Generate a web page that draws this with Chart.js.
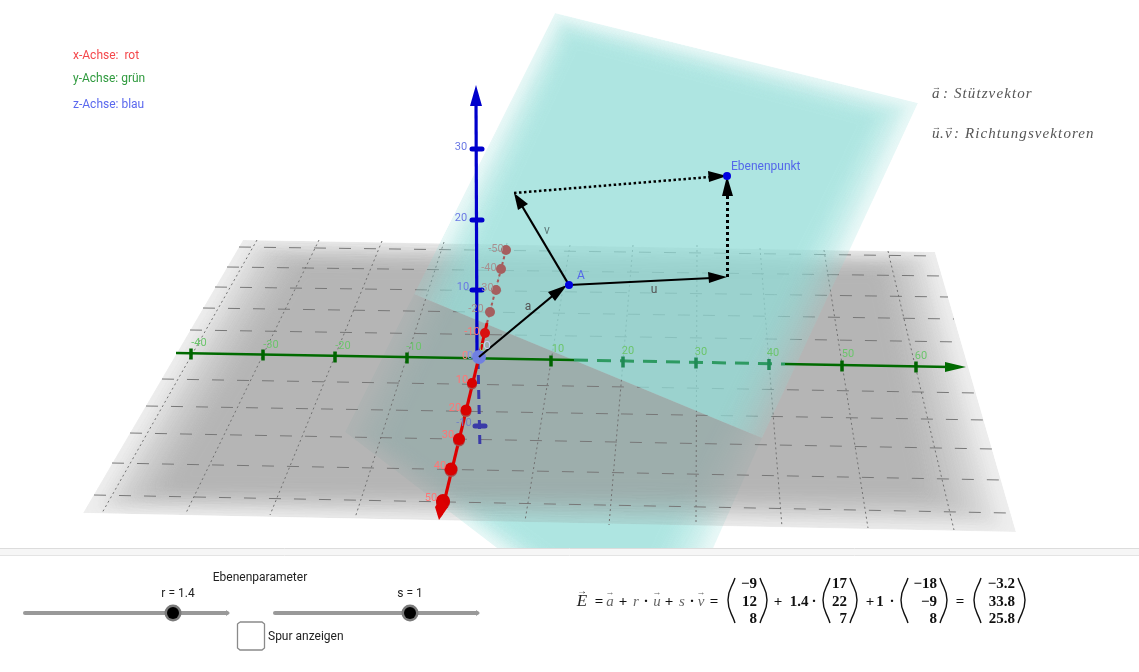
<!DOCTYPE html>
<html><head><meta charset="utf-8">
<script src="https://cdn.jsdelivr.net/npm/chart.js@4"></script>
<style>html,body{margin:0;padding:0;background:#fff}canvas{display:block}</style>
</head><body><canvas id="c" width="1139" height="672"></canvas>
<script>
// ---------- surfaces (picture coordinates) ----------
const tealLayers = [
 [[555,13],[918,103],[690,600],[565,600],[345,432]],
 [[558,18],[909,106],[680,600],[574,600],[354,434]],
 [[562,23],[900,109],[669,600],[583,600],[363,435]],
 [[565,28],[890,112],[658,600],[592,600],[372,437]],
 [[569,33],[881,115],[647,600],[601,600],[381,438]],
 [[572,38],[872,118],[636,600],[610,600],[390,440]]
];
const tealUpper = [[555,13],[918,103],[762,438],[414,294]];
const tealLower = [[414,294],[762,438],[690,600],[565,600],[345,432]];
const grayLayers = [
 [[243,240],[935,252],[1016,532],[83,513]],
 [[252,244],[926,255],[1001,526],[97,509]],
 [[262,248],[917,258],[986,519],[110,505]],
 [[271,252],[907,261],[970,513],[124,501]],
 [[281,257],[898,264],[955,507],[138,498]],
 [[290,261],[889,267],[940,500],[151,494]],
 [[300,265],[880,270],[925,494],[165,490]]
];
// ---------- floor grid ----------
const gridRows = [
 [[239,247],[936,256]],[[227,267],[942,276]],[[215,287],[948,297]],[[203,308],[954,319]],
 [[190,330],[961,342]],[[162,379],[976,393]],[[146,406],[984,420]],[[130,433],[992,449]],
 [[112,463],[1001,480]],[[94,495],[1008,513]]
];
const gridCols = [
 [[257,240],[102,513]],[[319,240],[186,513]],[[382,241],[270,515]],[[444,242],[355,518]],
 [[507,243],[440,520]],[[570,245],[525,521]],[[633,245],[609,525]],[[697,245],[696,523]],
 [[760,248],[782,527]],[[824,250],[868,528]],[[888,251],[954,530]]
];
// ---------- axes ----------
const yAxisLeft = [[176,353],[574,360]];
const yAxisHidden = [[574,360],[785,364]];
const yAxisRight = [[785,364],[950,367]];
const yArrow = [[945,362],[966,367],[945,372]];
const yTicksFront = [[191,354],[263,355],[335,357],[407,358],[551,361],[842,366],[916,367]];
const yTicksHidden = [[623,362],[696,363],[769,364.5]];
const zAxisUp = [[477,357],[476,100]];
const zArrow = [[476,85],[470,106],[482,106]];
const zAxisDown = [[478,360],[480,450]];
const zTicks = [[[472,149],[482,149]],[[472,220],[482,220]],[[472,290],[482,290]]];
const zTickDown = [[475,426],[485,426]];
const xAxisFront = [[479,357],[441,515]];
const xAxisBack = [[479,357],[487,323]];
const xAxisBackDots = [[487,323],[506,250]];
const xArrow = [[439,520],[435,507],[441,498],[448,507]];
const xTicksFront = [[472,383],[466,410],[459,439],[451,469],[443,501]];
const xTickRadii = [5,5.5,6,6.5,7];
const xTicksBackBright = [[485,333]];
const xTicksBack = [[490,312],[496,290],[501,269],[506,250]];
const originPoint = [[479,357]];
// ---------- vectors ----------
const vecA = [[479,357],[556,293]];
const vecAHead = [[567,285],[548,292],[555,301]];
const vecU = [[569,285],[712,278]];
const vecUHead = [[727,277],[708,272],[709,283]];
const vecV = [[569,285],[522,206]];
const vecVHead = [[514,193],[518,210],[528,204]];
const dotTop = [[514,193],[710,177]];
const dotTopHead = [[727,176],[708,171],[709,182]];
const dotRight = [[727.5,277],[727.5,194]];
const dotRightHead = [[727,176],[722,196],[733,196]];
const planePoints = [[569,285],[727,176]];
// ---------- panel and widgets ----------
const panelBack = [[0,548],[1139,548],[1139,672],[0,672]];
const panelStrip = [[0,549],[1139,549],[1139,555],[0,555]];
const panelLineTop = [[0,548.5],[1139,548.5]];
const panelLineBottom = [[0,555.5],[1139,555.5]];
const sliderR = [[25,613],[227,613]];
const sliderS = [[275,613],[477,613]];
const sliderRHead = [[230,613],[226,610],[226,616]];
const sliderSHead = [[480,613],[476,610],[476,616]];
const sliderKnobs = [[173,613],[410,613]];
const checkBox = [[240,622],[262,622],[264.5,624],[264.5,648],[262,650],[240,650],[237.5,648],[237.5,624],[240,622]];
// ---------- formula parentheses ----------
const parens = [
 [[735,578],[728,600],[735,623]],[[760,578],[767,600],[760,623]],
 [[830,578],[823,600],[830,623]],[[850,578],[857,600],[850,623]],
 [[908,578],[901,600],[908,623]],[[940,578],[947,600],[940,623]],
 [[981,578],[974,600],[981,623]],[[1018,578],[1025,600],[1018,623]]
];
// ---------- text ----------
const UI = '12px Roboto', TICK = '11px Roboto';
const MATH = 'bold 15px "Liberation Serif"', MI = 'italic 15px "Liberation Serif"';
const legendTexts = [
 ['x-Achse:  rot',73,55,'#f4474b'],['y-Achse: grün',73,78,'#2f9a3e'],['z-Achse: blau',73,104,'#5a68ee']
];
const yTickLabels = [['-40',199,342],['-30',271,344],['-20',343,345],['-10',414,346],['10',558,348],
 ['20',628,350],['30',701,351],['40',773,352],['50',848,353],['60',921,355]];
const zTickLabels = [['30',461,146],['20',461,217],['10',463,286]];
const zTickLabelsDim = [['-10',464,422]];
const xTickLabels = [['10',462,379],['20',455,407],['30',448,434],['40',440,465],['50',431,497],['-10',472,331]];
const xTickLabelsDim = [['-20',476,308],['-30',486,287],['-40',489,267],['-50',496,248]];
const originLabels = [['0',465,355,'#ff7f7f'],['0',470,355,'#7f8ce8'],['0',482,347,'#8fd08f'],['O',487,345,'#c9d2fa']];
const vectorLabels = [['a',528,306,'#555'],['u',654,289,'#555'],['v',547,230,'#5f7a7a']];
const pointLabels = [['A',577,275],['Ebenenpunkt',731,166]];
const widgetTexts = [['Ebenenparameter',260,577,'center'],['r = 1.4',178,593,'center'],['s = 1',410,593,'center'],['Spur anzeigen',268,636,'left']];
const noteTexts = [
 ['a',932,93],['→',932,87,9],[': Stützvektor',943,93],
 ['u',932,133],['→',932,127,9],['.',940,133],['v',945,133],['→',945,127,9],[': Richtungsvektoren',954,133]
];
const formulaItalic = [['E',582,601,0,'italic 17px "Liberation Serif"'],['→',582,590,10],['a',610,601],['→',610,592,9],['r',636,601],['u',657,601],['→',657,592,9],['s',682,601],['v',701,601],['→',701,592,9]];
const formulaOps = [['=',599,601],['+',623,601],['·',646,601],['+',669,601],['·',692,601],['=',714,601],
 ['+',778,601],['1.4',799,601],['·',814,601],['+',870,601],['1',880,601],['·',892,601],['=',960,601]];
const matrixA = ['−9','12','8'];
const matrixU = ['17','22','7'];
const matrixV = ['−18','−9','8'];
const matrixE = ['−3.2','33.8','25.8'];
const matrixRight = [757,847,937,1015];
const matrixRows = [583,601,618];

// soft-edged translucent fill for the planes: nested outlines, blurred, used as a fill pattern
function softPattern(layers,color,blur){
 const off=document.createElement('canvas'); off.width=1139; off.height=672;
 const g=off.getContext('2d');
 g.fillStyle=color;
 layers.forEach((p,i)=>{
  g.filter = i===0 ? 'none' : 'blur('+blur+'px)';
  g.beginPath(); p.forEach((q,k)=>k?g.lineTo(q[0],q[1]):g.moveTo(q[0],q[1])); g.closePath(); g.fill();
 });
 return g.createPattern(off,'no-repeat');
}
const tealFill = softPattern(tealLayers,'rgba(146,220,217,0.2)',5);
const grayFill = softPattern(grayLayers,'rgba(152,152,152,0.16)',7);

const pts = a => a.map(p => ({x:p[0],y:p[1]}));
const datasets = [];
function add(d){ d.order = -datasets.length; d.showLine = d.showLine!==false; d.pointRadius = d.pointRadius||0; d.pointHoverRadius=0; datasets.push(d); }
function poly(a,c){ add({data:pts(a),fill:'shape',backgroundColor:c,borderWidth:0,borderColor:'transparent',tension:0}); }
function line(a,c,w,dash,t,cap){ add({data:pts(a),borderColor:c,borderWidth:w,borderDash:dash||[],fill:false,tension:t||0,borderCapStyle:cap||'butt'}); }
function marks(a,opt){ add(Object.assign({data:pts(a),showLine:false,borderWidth:0},opt)); }

poly(tealLower,tealFill);
poly(grayLayers[0],grayFill);
gridRows.forEach(r=>line(r,'#777',1,[12,13]));
gridCols.forEach(r=>line(r,'#707070',1,[2,3]));
poly(tealUpper,tealFill);
// axes
line(zAxisUp,'#0000cc',3.2);
poly(zArrow,'#0000cc');
zTicks.forEach(t=>line(t,'#0000cc',5,[],0,'round'));
line(zAxisDown,'#3a3aa8',3,[9,6]);
line(zTickDown,'#3a3aa8',5,[],0,'round');
line(yAxisLeft,'#006a00',2.4);
line(yAxisHidden,'#2e9a62',3,[14,9]);
line(yAxisRight,'#006a00',2.4);
poly(yArrow,'#006a00');
marks(yTicksFront,{pointStyle:'line',rotation:90,pointRadius:5.5,borderWidth:3.5,borderColor:'#006400'});
marks(yTicksHidden,{pointStyle:'line',rotation:90,pointRadius:5.5,borderWidth:3.5,borderColor:'#1f8a55'});
line(xAxisBackDots,'#a85a5a',2,[3,3]);
marks(xTicksBack,{pointStyle:'circle',pointRadius:5,backgroundColor:'#a55f5f'});
line(xAxisBack,'#dd0000',3);
marks(xTicksBackBright,{pointStyle:'circle',pointRadius:5,backgroundColor:'#d81010'});
line(xAxisFront,'#dd0000',3.2);
marks(xTicksFront.map(p=>[p[0],p[1]+1.5]),{pointStyle:'circle',pointRadius:xTickRadii,backgroundColor:'#a84a4a'});
marks(xTicksFront,{pointStyle:'circle',pointRadius:xTickRadii,backgroundColor:'#d80000'});
poly(xArrow,'#dd0000');
marks(originPoint,{pointStyle:'circle',pointRadius:7,backgroundColor:'#7080e0'});
// vectors
line(vecA,'#000',2.2); poly(vecAHead,'#000');
line(vecU,'#000',2.2); poly(vecUHead,'#000');
line(vecV,'#000',2.2); poly(vecVHead,'#000');
line(dotTop,'#000',2.5,[2.5,2.5]); poly(dotTopHead,'#000');
line(dotRight,'#000',3,[3,3]); poly(dotRightHead,'#000');
marks(planePoints,{pointStyle:'circle',pointRadius:4,backgroundColor:'#0000e0'});
// bottom panel
poly(panelBack,'#ffffff');
poly(panelStrip,'#f6f6f6');
line(panelLineTop,'#dcdcdc',1);
line(panelLineBottom,'#e4e4e4',1);
line(sliderR,'#999',4,[],0,'round'); poly(sliderRHead,'#999');
line(sliderS,'#999',4,[],0,'round'); poly(sliderSHead,'#999');
marks(sliderKnobs,{pointStyle:'circle',pointRadius:8.5,backgroundColor:'#7a7a7a'});
marks(sliderKnobs,{pointStyle:'circle',pointRadius:6,backgroundColor:'#000'});
line(checkBox,'#8a8a8a',1.3);
parens.forEach(p=>line(p,'#111',1.4,[],0.5));

const textPlugin = {
 id:'texts',
 afterDraw(chart){
  const c=chart.ctx, X=chart.scales.x, Y=chart.scales.y;
  const put=(s,x,y,font,col,al)=>{c.font=font;c.fillStyle=col;c.textAlign=al||'left';c.textBaseline='middle';c.fillText(s,X.getPixelForValue(x),Y.getPixelForValue(y)+1);};
  c.save();
  legendTexts.forEach(t=>put(t[0],t[1],t[2],UI,t[3]));
  yTickLabels.forEach(t=>put(t[0],t[1],t[2],TICK,'#6cc56c','center'));
  zTickLabels.forEach(t=>put(t[0],t[1],t[2],TICK,'#6a78e4','center'));
  zTickLabelsDim.forEach(t=>put(t[0],t[1],t[2],TICK,'#7280c8','center'));
  xTickLabels.forEach(t=>put(t[0],t[1],t[2],TICK,'#ff7575','center'));
  xTickLabelsDim.forEach(t=>put(t[0],t[1],t[2],TICK,'#a89090','center'));
  originLabels.forEach(t=>put(t[0],t[1],t[2],TICK,t[3],'center'));
  vectorLabels.forEach(t=>put(t[0],t[1],t[2],UI,t[3],'center'));
  pointLabels.forEach(t=>put(t[0],t[1],t[2],UI,'#5468ea','left'));
  widgetTexts.forEach(t=>put(t[0],t[1],t[2],UI,'#222',t[3]));
  noteTexts.forEach(t=>{
   c.letterSpacing = t[0].length>1 && t[0]!=='→' ? '1.1px' : '0px';
   put(t[0],t[1],t[2],t[3]?t[3]+'px "Liberation Serif"':'italic 15px "Liberation Serif"','#555','left');
  });
  c.letterSpacing='0px';
  formulaItalic.forEach(t=>put(t[0],t[1],t[2],t[4]||(t[3]?t[3]+'px "Liberation Serif"':MI),t[0]==='E'||(t[0]==='→'&&t[1]===582)?'#222':'#666','center'));
  formulaOps.forEach(t=>put(t[0],t[1],t[2],MATH,'#111','center'));
  [matrixA,matrixU,matrixV,matrixE].forEach((m,i)=>m.forEach((s,j)=>put(s,matrixRight[i],matrixRows[j],MATH,'#111','right')));
  c.restore();
 }
};
new Chart(document.getElementById('c'),{
 type:'scatter',
 data:{datasets},
 plugins:[textPlugin],
 options:{
  responsive:false,animation:false,devicePixelRatio:1,
  layout:{padding:0,autoPadding:false},
  plugins:{legend:{display:false},title:{display:false},tooltip:{enabled:false}},
  events:[],
  scales:{
   x:{type:'linear',min:0,max:1139,display:false},
   y:{type:'linear',min:0,max:672,reverse:true,display:false}
  }
 }
});
</script></body></html>
